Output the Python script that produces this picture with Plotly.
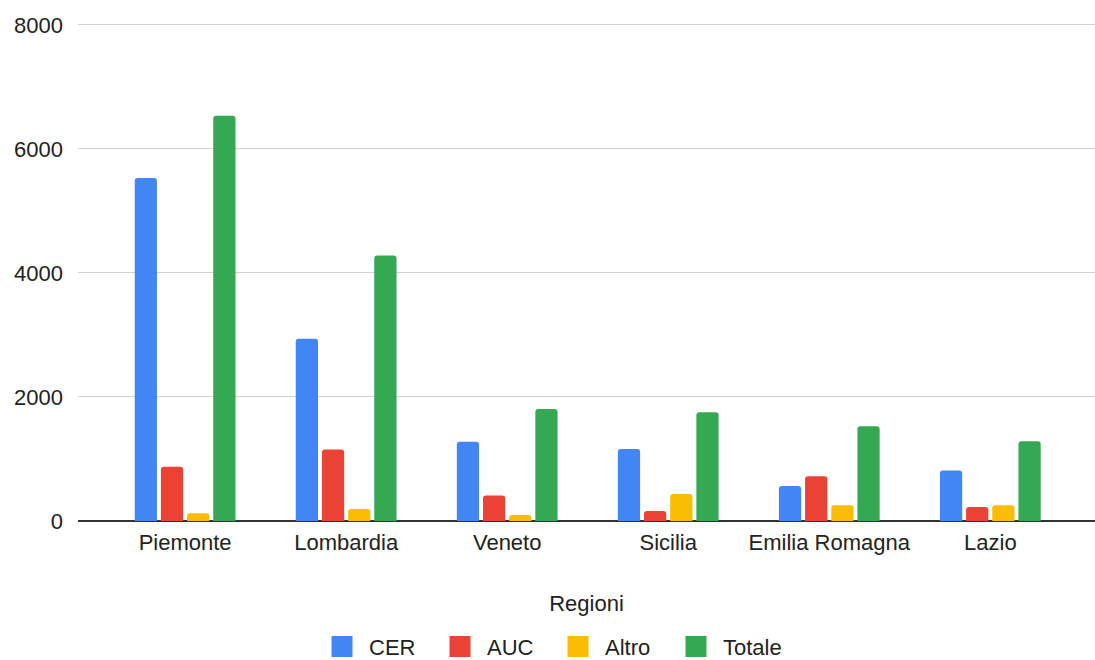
import plotly.graph_objects as go

regioni = ["Piemonte", "Lombardia", "Veneto", "Sicilia", "Emilia Romagna", "Lazio"]
cer = [5530, 2940, 1280, 1160, 565, 815]
auc = [875, 1155, 410, 160, 720, 225]
altro = [125, 195, 95, 435, 255, 255]
totale = [6535, 4280, 1805, 1755, 1530, 1285]

series = [
    ("CER", cer, "#4285F4"),
    ("AUC", auc, "#EA4335"),
    ("Altro", altro, "#FBBC04"),
    ("Totale", totale, "#34A853"),
]

FONT = "Liberation Sans, Arial, sans-serif"
TXT = "#222222"

fig = go.Figure()
for name, vals, color in series:
    fig.add_trace(go.Bar(x=regioni, y=vals, name=name, marker_color=color,
                         marker_line_width=0, showlegend=False))
# legend entries with larger square swatches
for name, vals, color in series:
    fig.add_trace(go.Scatter(x=[regioni[0]], y=[None], name=name, mode="markers",
                             marker=dict(symbol="square", size=16, color=color,
                                         line=dict(width=5, color=color)),
                             showlegend=True, hoverinfo="skip"))

fig.update_layout(
    width=1095, height=660,
    margin=dict(l=78, r=0, t=20, b=139),
    paper_bgcolor="white", plot_bgcolor="white",
    barmode="group", bargap=0.35, bargroupgap=0.15,
    barcornerradius=3,
    font=dict(family=FONT, size=22, color=TXT),
    xaxis=dict(
        range=[-0.665, 5.65],
        title=dict(text="Regioni", font=dict(size=22, color=TXT), standoff=41),
        tickfont=dict(size=22, color=TXT),
        showgrid=False, showline=False, zeroline=False, ticks="",
        ticklabelstandoff=6,
    ),
    yaxis=dict(
        range=[0, 8080],
        tickvals=[0, 2000, 4000, 6000, 8000],
        ticktext=["0", "2000", "4000", "6000", "8000"],
        tickfont=dict(size=22, color=TXT),
        showgrid=True, gridcolor="#d0d0d0", gridwidth=1,
        zeroline=True, zerolinecolor="#333333", zerolinewidth=2,
        showline=False, ticks="", ticklabelstandoff=14,
    ),
    legend=dict(
        orientation="h", x=0.5032, xanchor="center",
        xref="container", yref="container", y=0.02, yanchor="middle",
        font=dict(size=22, color=TXT), itemwidth=44,
        entrywidth=59, entrywidthmode="pixels",
        traceorder="normal",
    ),
)

fig.write_html("out.html", config={"displayModeBar": False},
               post_script="document.body.style.margin='0';")
